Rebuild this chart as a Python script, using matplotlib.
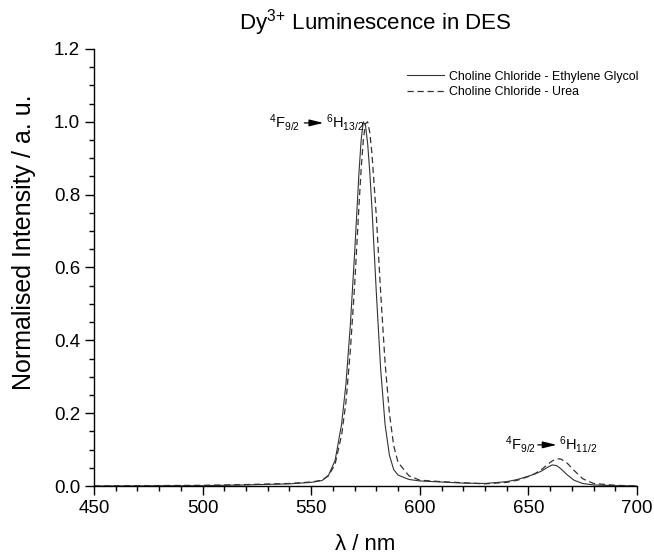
import matplotlib.pyplot as plt
from matplotlib.ticker import MultipleLocator

# wavelength (nm) and normalised intensities
wavelength = [450, 500, 520, 540, 550, 555, 558, 561, 564, 566, 568, 570, 572, 573,
              574, 575, 576, 577, 578, 580, 582, 584, 586, 588, 590, 595, 600, 610,
              620, 630, 640, 645, 650, 653, 656, 659, 661, 663, 665, 668, 671, 675,
              680, 690, 700]
eg = [0.0, 0.001, 0.003, 0.006, 0.010, 0.015, 0.030, 0.070, 0.170, 0.280, 0.440, 0.640,
      0.860, 0.950, 1.000, 0.990, 0.940, 0.860, 0.760, 0.530, 0.320, 0.170, 0.085, 0.045,
      0.030, 0.018, 0.014, 0.011, 0.008, 0.007, 0.012, 0.018, 0.027, 0.033, 0.041, 0.052,
      0.058, 0.056, 0.047, 0.030, 0.016, 0.007, 0.003, 0.001, 0.0]
urea = [0.0, 0.002, 0.004, 0.007, 0.011, 0.016, 0.028, 0.060, 0.140, 0.230, 0.370, 0.550,
        0.770, 0.870, 0.950, 0.995, 1.000, 0.970, 0.910, 0.740, 0.530, 0.340, 0.200, 0.110,
        0.065, 0.028, 0.016, 0.012, 0.009, 0.006, 0.010, 0.016, 0.026, 0.034, 0.045, 0.060,
        0.069, 0.075, 0.074, 0.062, 0.043, 0.020, 0.007, 0.002, 0.0]

plt.rcParams['font.family'] = 'Liberation Sans'
plt.rcParams['mathtext.fontset'] = 'custom'
plt.rcParams['mathtext.rm'] = 'Liberation Sans'
plt.rcParams['mathtext.it'] = 'Liberation Sans:italic'
plt.rcParams['axes.linewidth'] = 1.0

fig = plt.figure(figsize=(6.54, 5.54), dpi=100)
ax = fig.add_axes([0.1437, 0.1227, 0.8303, 0.7889])

ax.plot(wavelength, eg, color='#333333', linewidth=0.8, linestyle='-',
        label='Choline Chloride - Ethylene Glycol')
ax.plot(wavelength, urea, color='#333333', linewidth=0.9, linestyle=(0, (5, 3)),
        label='Choline Chloride - Urea')

ax.set_xlim(450, 700)
ax.set_ylim(0, 1.2)
ax.xaxis.set_major_locator(MultipleLocator(50))
ax.xaxis.set_minor_locator(MultipleLocator(10))
ax.yaxis.set_major_locator(MultipleLocator(0.2))
ax.yaxis.set_minor_locator(MultipleLocator(0.05))
ax.yaxis.set_major_formatter(plt.FuncFormatter(lambda v, p: f'{v:.1f}'))
ax.tick_params(which='major', direction='out', length=6.5, width=1.0, labelsize=13.5)
ax.tick_params(which='minor', direction='out', length=3.5, width=1.0)
ax.spines['top'].set_visible(False)
ax.spines['right'].set_visible(False)

ax.set_title('Dy$^{3}$$^{+}$ Luminescence in DES', fontsize=16, pad=14, x=0.519)
ax.set_xlabel('λ / nm', fontsize=16, labelpad=12)
ax.set_ylabel('Normalised Intensity / a. u.', fontsize=18)
ax.yaxis.set_label_coords(-0.107, 0.558)

# transition labels
arrow = dict(arrowstyle='-|>,head_length=0.7,head_width=0.17', color='black',
             lw=0.9, mutation_scale=12, shrinkA=0, shrinkB=0)
ax.text(537.5, 0.997, '$^4$F$_{9/2}$', fontsize=10.5, ha='center', va='center')
ax.annotate('', xy=(555.6, 0.997), xytext=(546.8, 0.997), arrowprops=arrow)
ax.text(556.6, 0.997, '$^6$H$_{13/2}$', fontsize=10.5, ha='left', va='center')

ax.text(646.6, 0.113, '$^4$F$_{9/2}$', fontsize=10.5, ha='center', va='center')
ax.annotate('', xy=(663.0, 0.113), xytext=(654.3, 0.113), arrowprops=arrow)
ax.text(664.3, 0.113, '$^6$H$_{11/2}$', fontsize=10.5, ha='left', va='center')

ax.legend(loc='upper right', bbox_to_anchor=(1.012, 0.962), frameon=False,
          fontsize=8.9, handlelength=3.0, handletextpad=0.4, labelspacing=0.3,
          borderaxespad=0)

fig.savefig('out.png', dpi=100)
